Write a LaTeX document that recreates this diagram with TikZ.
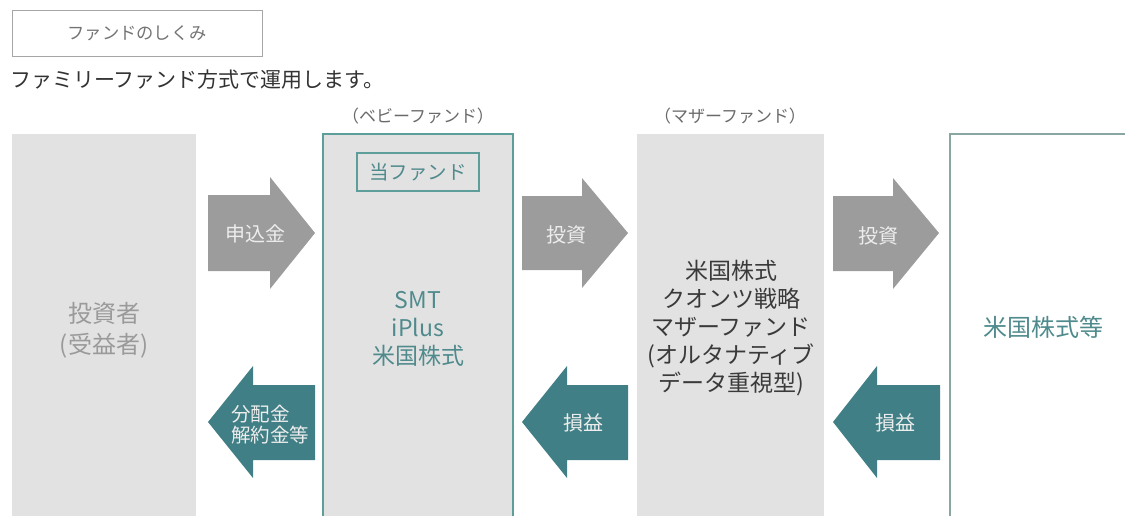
\documentclass[tikz,border=0pt]{standalone}
\usepackage{fontspec}
\setmainfont{Noto Sans CJK JP}
\definecolor{boxgray}{HTML}{E3E2E2}
\definecolor{arrgray}{HTML}{9C9C9C}
\definecolor{teal1}{HTML}{3F7F85}
\definecolor{tealline}{HTML}{5E9E9A}
\definecolor{tealtext}{HTML}{4F8A8C}
\definecolor{graytext}{HTML}{9A9A9A}
\definecolor{darktext}{HTML}{3A3A3A}
\definecolor{midtext}{HTML}{6A6A6A}
\definecolor{box4line}{HTML}{8AA6A3}
\tikzset{
  lbl/.style={inner sep=0pt, align=center},
  arrlbl/.style={lbl, text=white!93!black, font=\fontsize{20}{22}\selectfont},
  boxtxt/.style={lbl, font=\fontsize{23}{28}\selectfont},
}
\begin{document}
\begin{tikzpicture}[x=1pt,y=-1pt]
\useasboundingbox (0,0) rectangle (1125,515);
% header box
\node[draw=black!35, line width=1pt, minimum width=250pt, minimum height=46pt, inner sep=0pt,
  text=black!55, font=\fontsize{17.3}{19}\selectfont] (hdr) at (137,33) {ファンドのしくみ};
\node[anchor=west, lbl, text=black!80, font=\fontsize{21}{23}\selectfont] (sub) at (10,80) {ファミリーファンド方式で運用します。};
\node[lbl, text=midtext, font=\fontsize{17}{19}\selectfont] (baby) at (418,116) {（ベビーファンド）};
\node[lbl, text=midtext, font=\fontsize{17}{19}\selectfont] (mother) at (730,116) {（マザーファンド）};
% boxes
\fill[boxgray] (12,134) rectangle (196,516);
\node[boxtxt, text=graytext, font=\fontsize{24}{31}\selectfont] (inv) at (104,330) {投資者\\(受益者)};
\fill[boxgray] (323,134) rectangle (513,516);
\draw[tealline, line width=2pt] (323,516) -- (323,134) -- (513,134) -- (513,516);
\node[draw=tealline, line width=2.5pt, fill=boxgray, minimum width=122pt, minimum height=38pt,
  inner sep=0pt, text=tealtext, font=\fontsize{19.5}{21}\selectfont] (this) at (418,172) {当ファンド};
\node[boxtxt, text=tealtext] (baby fund) at (418,329) {SMT\\iPlus\\米国株式};
\fill[boxgray] (637,134) rectangle (824,516);
\node[boxtxt, text=darktext] (mf) at (731,328) {米国株式\\クオンツ戦略\\マザーファンド\\(オルタナティブ\\データ重視型)};
\draw[box4line, line width=1.5pt] (950,516) -- (950,134) -- (1130,134);
\node[boxtxt, text=tealtext, font=\fontsize{24}{28}\selectfont] (us) at (1043,327) {米国株式等};
% gray arrows (right)
\fill[arrgray] (208,195) -- (270,195) -- (270,177) -- (315,233) -- (270,289) -- (270,271) -- (208,271) -- cycle;
\node[arrlbl] (a1) at (255,234) {申込金};
\fill[arrgray] (522,196) -- (582,196) -- (582,178) -- (628,233) -- (582,288) -- (582,270) -- (522,270) -- cycle;
\node[arrlbl] (a2) at (566,235) {投資};
\fill[arrgray] (833,196) -- (893,196) -- (893,178) -- (939,233) -- (893,289) -- (893,271) -- (833,271) -- cycle;
\node[arrlbl] (a3) at (878,236) {投資};
% teal arrows (left)
\fill[teal1] (315,385) -- (253,385) -- (253,366) -- (208,422) -- (253,478) -- (253,460) -- (315,460) -- cycle;
\node[arrlbl, align=left, anchor=west, font=\fontsize{19.5}{21}\selectfont] (b1) at (231,425) {分配金\\解約金等};
\fill[teal1] (628,385) -- (567,385) -- (567,366) -- (522,422) -- (567,478) -- (567,460) -- (628,460) -- cycle;
\node[arrlbl] (b2) at (583,423) {損益};
\fill[teal1] (940,385) -- (877,385) -- (877,366) -- (833,422) -- (877,478) -- (877,460) -- (940,460) -- cycle;
\node[arrlbl] (b3) at (895,423) {損益};
\end{tikzpicture}
\end{document}
